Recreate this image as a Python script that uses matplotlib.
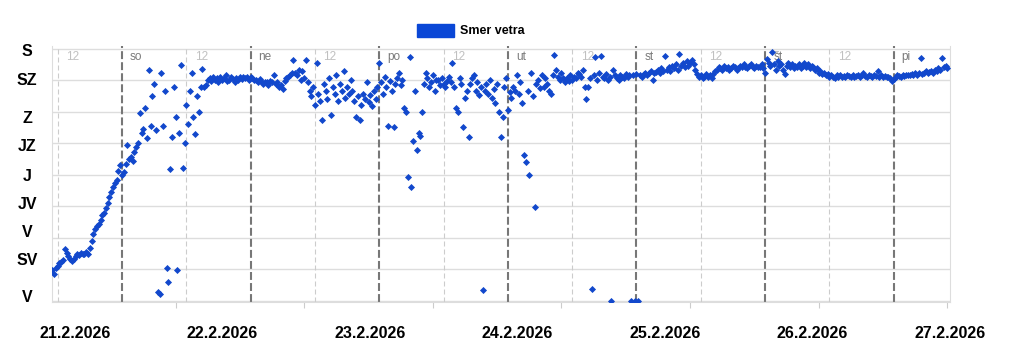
import numpy as np
import matplotlib
matplotlib.use('Agg')
import matplotlib.pyplot as plt
from matplotlib.patches import Rectangle

plt.rcParams['font.family'] = ['Liberation Sans', 'DejaVu Sans']

# wind direction in degrees, one reading every 20 min, first at 20.2. 11:00
START_H = -13.0
STEP_H = 1.0 / 3.0
direction = [
    44, 38, 46, 50, 54, 55, 58, 74, 68, 64, 60, 57,
    60, 64, 66, 65, 68, 66, 67, 69, 66, 75, 85, 95,
    102, 106, 110, 115, 122, 125, 132, 140, 148, 155, 162, 168,
    172, 186, 194, 180, 184, 196, 222, 202, 206, 200, 212, 220,
    226, 268, 240, 246, 275, 232, 330, 250, 292, 310, 244, 12,
    10, 325, 250, 300, 46, 27, 188, 234, 306, 262, 44, 240,
    337, 190, 225, 280, 252, 300, 325, 262, 238, 292, 270, 305,
    331, 305, 308, 316, 318, 314, 320, 316, 318, 312, 319, 315,
    318, 322, 314, 316, 320, 317, 312, 318, 315, 320, 317, 319,
    318, 320, 316, 319, 318, 316, 315, 312, 317, 314, 310, 313,
    312, 308, 314, 312, 322, 310, 312, 306, 308, 302, 314, 318,
    320, 322, 325, 344, 326, 322, 330, 316, 328, 318, 344, 312,
    300, 292, 305, 280, 340, 296, 285, 258, 310, 300, 288, 318,
    265, 305, 295, 322, 285, 310, 300, 328, 290, 306, 296, 315,
    300, 285, 262, 292, 258, 280, 296, 288, 312, 284, 294, 278,
    300, 288, 305, 340, 312, 296, 320, 305, 250, 314, 300, 248,
    310, 318, 325, 308, 316, 276, 270, 177, 348, 162, 228, 300,
    215, 240, 236, 270, 310, 326, 318, 305, 312, 322, 300, 316,
    315, 308, 318, 310, 306, 314, 320, 312, 340, 306, 276, 270,
    318, 310, 248, 290, 300, 234, 310, 318, 322, 300, 312, 294,
    306, 15, 300, 310, 296, 316, 290, 302, 282, 310, 270, 234,
    262, 305, 318, 272, 298, 290, 306, 300, 322, 296, 312, 282,
    208, 198, 300, 180, 326, 292, 134, 310, 316, 304, 322, 306,
    318, 310, 300, 296, 322, 351, 330, 320, 316, 325, 318, 312,
    318, 314, 322, 316, 320, 318, 326, 324, 320, 330, 306, 288,
    305, 318, 17, 322, 348, 316, 325, 350, 320, 318, 324, 316,
    320, 0, 330, 322, 318, 316, 322, 320, 318, 324, 320, 322,
    0, 322, 0, 324, 0, 322, 320, 324, 326, 322, 325, 328,
    316, 325, 327, 330, 326, 332, 328, 350, 330, 334, 328, 336,
    332, 338, 330, 352, 336, 340, 334, 342, 336, 340, 344, 338,
    330, 324, 320, 322, 318, 320, 324, 320, 322, 318, 324, 328,
    330, 334, 332, 330, 336, 332, 334, 330, 332, 336, 334, 330,
    332, 336, 334, 338, 334, 332, 336, 338, 334, 332, 336, 334,
    334, 338, 332, 326, 345, 340, 336, 356, 338, 330, 342, 336,
    338, 330, 324, 336, 340, 334, 338, 332, 336, 334, 338, 332,
    336, 340, 334, 338, 332, 336, 334, 330, 332, 326, 328, 324,
    326, 322, 324, 320, 322, 320, 318, 322, 320, 322, 320, 321,
    320, 322, 321, 319, 322, 320, 321, 323, 320, 322, 326, 321,
    320, 322, 321, 320, 322, 321, 328, 320, 322, 320, 321, 319,
    320, 318, 314, 317, 320, 322, 321, 320, 322, 321, 323, 322,
    322, 324, 322, 325, 323, 326, 347, 324, 326, 328, 325, 327,
    328, 326, 330, 328, 332, 330, 347, 334, 336, 332,
]
hours = START_H + STEP_H * np.arange(len(direction))

dir_labels = ['V', 'SV', 'V', 'JV', 'J', 'JZ', 'Z', 'SZ', 'S']
dir_label_pos = [4, 57, 98, 138, 178, 220, 261, 314, 356]
day_names = ['so', 'ne', 'po', 'ut', 'st', 'št', 'pi']
date_labels = ['21.2.2026', '22.2.2026', '23.2.2026', '24.2.2026',
               '25.2.2026', '26.2.2026', '27.2.2026']
date_px = [75, 222, 370, 517, 665, 812, 950]

W, H = 1024, 363
fig = plt.figure(figsize=(W / 100, H / 100), dpi=100)
ax = fig.add_axes([52 / W, 1 - 302 / H, 898 / W, 256 / H])
ax.set_xlim(-13.06, 154.5)
ax.set_ylim(-2, 364)

ax.set_yticks(range(0, 361, 45))
ax.tick_params(axis='y', length=0, labelleft=False)
ax.grid(axis='y', color='#dddddd', lw=1)
ax.set_axisbelow(True)
ax.set_xticks([10 + 24 * k for k in range(7)])
ax.tick_params(axis='x', length=4, color='#cccccc', labelbottom=False)
ax.spines['top'].set_visible(False)
for s in ['left', 'right', 'bottom']:
    ax.spines[s].set_color('#dddddd')

# day boundaries and noon lines
for k, name in enumerate(day_names):
    ax.axvline(24 * k, color='#777777', lw=1.5, ls=(0, (3.8, 1.5)), zorder=1)
    ax.text(24 * k + 1.5, 348.5, name, color='#7a7a7a', fontsize=8.5,
            va='center', zorder=2)
for k in range(7):
    noon = -12 + 24 * k
    ax.axvline(noon, color='#cccccc', lw=0.8, ls=(0, (4.5, 2.7)), zorder=1)
    ax.text(noon + 1.6, 348.5, '12', color='#c0c0c0', fontsize=8.5,
            va='center', zorder=2)

ax.scatter(hours, direction, s=13, marker='D', color='#1248cc',
           linewidths=0, zorder=3)

for lab, pos in zip(dir_labels, dir_label_pos):
    ax.text(-0.0278, pos, lab, transform=ax.get_yaxis_transform(),
            ha='center', va='center', fontsize=11.5, fontweight='bold')

for lab, px in zip(date_labels, date_px):
    fig.text(px / W, 1 - 334 / H, lab, ha='center', va='center',
             fontsize=11.5, fontweight='bold')

# legend
fig.patches.append(Rectangle((417 / W, 1 - 37 / H), 37 / W, 13 / H,
                             transform=fig.transFigure, color='#0a47d6'))
fig.text(460 / W, 1 - 30.5 / H, 'Smer vetra', fontsize=9,
         fontweight='bold', va='center')

fig.savefig('out.png', dpi=100)
